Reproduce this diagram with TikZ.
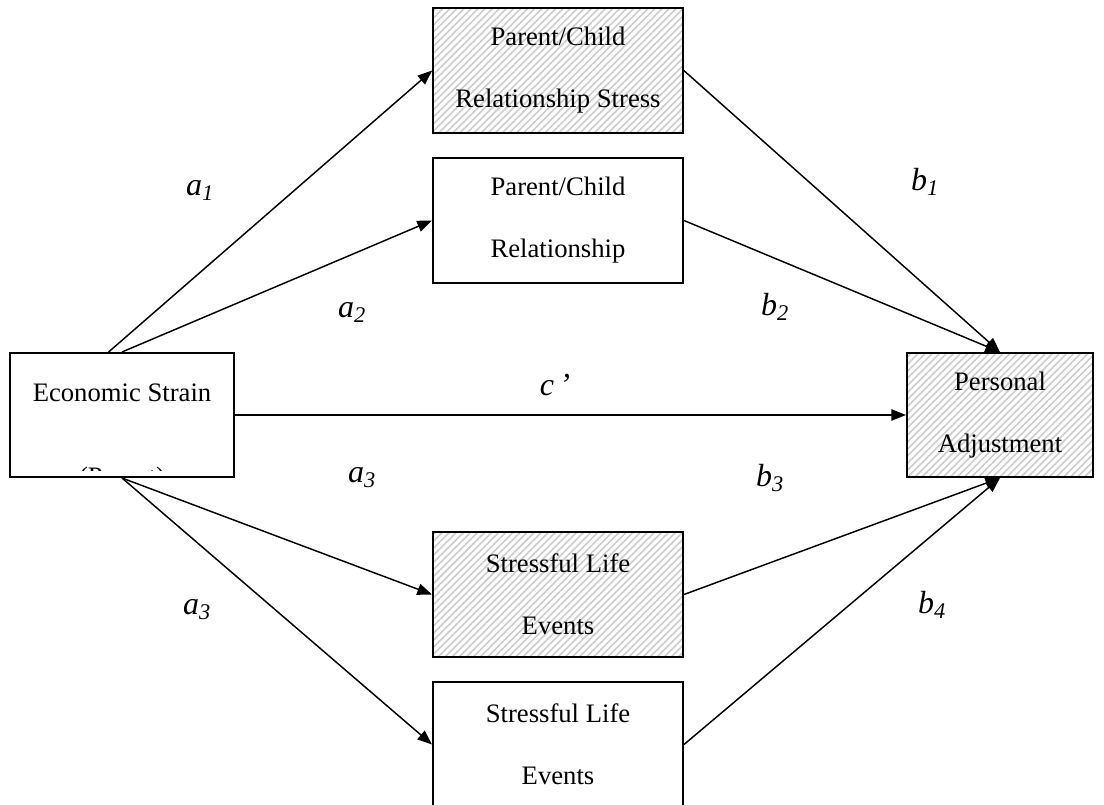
\documentclass[tikz,border=0pt]{standalone}
\usepackage{fontspec}
\setmainfont{Liberation Serif}
\usetikzlibrary{arrows.meta}
\usetikzlibrary{patterns.meta}
\tikzstyle{box}=[rectangle,draw=black,line width=1.5pt,align=center,inner sep=0pt,font=\fontsize{20}{46.5}\selectfont,minimum width=187.5pt,minimum height=93.75pt]
\tikzstyle{hatched}=[pattern={Lines[angle=45,distance=3.75pt,line width=1.2pt]},pattern color=black!20]
\tikzstyle{arr}=[-{Triangle[length=11pt,width=8.5pt]},draw=black,line width=1.1pt]
\tikzstyle{lbl}=[font=\fontsize{24}{28}\selectfont\itshape]

\begin{document}
\begin{tikzpicture}[x=0.75pt,y=-0.75pt]
    \useasboundingbox (0,0) rectangle (1104,805);
    \node[box,minimum width=168pt,minimum height=93pt] (es) at (122,415) {};
    \node[font=\fontsize{20}{24}\selectfont] (estext) at (122,393) {Economic Strain};
    \begin{scope}
      \clip (es.north west) rectangle ([yshift=5.25pt]es.south east);
      \node[font=\fontsize{20}{24}\selectfont] (espar) at (122,479) {(Parent)};
    \end{scope}
    \node[box,hatched] (pcs) at (558,70.5) {Parent/Child\\Relationship Stress};
    \node[box] (pc) at (558,220.5) {Parent/Child\\Relationship};
    \node[box,hatched,minimum width=139.5pt,minimum height=93pt] (pa) at (1000,415) {Personal\\Adjustment};
    \node[box,hatched] (sleh) at (558,594.5) {Stressful Life\\Events};
    \node[box] (sle) at (558,744.5) {Stressful Life\\Events};
    \draw[arr] (es.102) -- (pcs.west);
    \draw[arr] (es.north) -- (pc.west);
    \draw[arr] (es.east) -- (pa.west);
    \draw[arr] (es.south) -- (sleh.west);
    \draw[arr] (es.south) -- (sle.west);
    \draw[arr] (pcs.east) -- (pa.north);
    \draw[arr] (pc.east) -- (pa.north);
    \draw[arr] (sleh.east) -- (pa.south);
    \draw[arr] (sle.east) -- (pa.south);
    % path labels
    \node[lbl] (la1) at (200,190) {a\textsubscript{1}};
    \node[lbl] (la2) at (352,312) {a\textsubscript{2}};
    \node[lbl] (lb1) at (925,182) {b\textsubscript{1}};
    \node[lbl] (lb2) at (775,307) {b\textsubscript{2}};
    \node[lbl] (lc) at (555,385) {c\,’};
    \node[lbl] (la3) at (362,478) {a\textsubscript{3}};
    \node[lbl] (lb3) at (770,478) {b\textsubscript{3}};
    \node[lbl] (la3b) at (197,610) {a\textsubscript{3}};
    \node[lbl] (lb4) at (932,605) {b\textsubscript{4}};
\end{tikzpicture}
\end{document}
